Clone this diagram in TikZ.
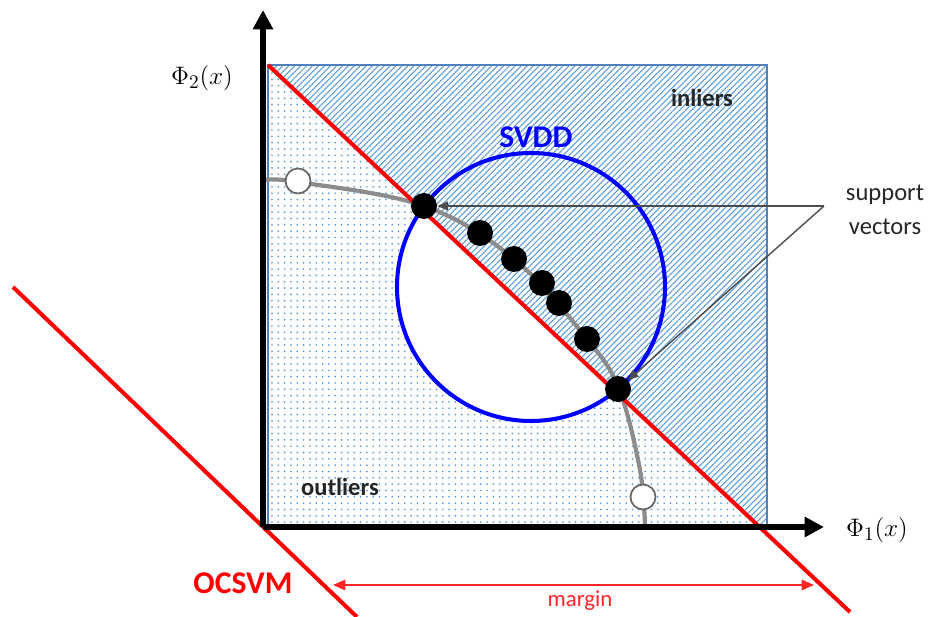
\documentclass[tikz,border=0pt]{standalone}
\usepackage{fontspec}
\setmainfont{Carlito}
\usetikzlibrary{arrows.meta, patterns.meta, positioning}

\definecolor{hatchblue}{RGB}{91,155,213}
\definecolor{boxblue}{RGB}{79,129,189}

\begin{document}
\begin{tikzpicture}[
  x=0.02cm, y=-0.02cm,
  axis/.style={line width=3pt,-{Triangle[length=11pt,width=11pt]}},
  boundary/.style={red,line width=2.3pt},
  sv/.style={circle,fill=black,inner sep=0pt,minimum size=0.52cm},
  outlier/.style={circle,draw=black!60,fill=white,line width=1pt,inner sep=0pt,minimum size=0.5cm},
  lbl/.style={font=\fontsize{14}{19}\selectfont\bfseries,text=black!85},
  axlbl/.style={font=\fontsize{15.5}{18}\selectfont},
  pointer/.style={black!70,line width=0.8pt,-{Triangle[length=6pt,width=5pt]}},
  marginarrow/.style={red!85,line width=0.9pt,{Triangle[length=7pt,width=6pt]}-{Triangle[length=7pt,width=6pt]}}
]
  \useasboundingbox (0,0) rectangle (930,617);

  % regions
  \fill[pattern={Dots[distance=3.6pt,radius=0.55pt]},pattern color=hatchblue]
    (268,65) -- (762,527) -- (268,527) -- cycle;
  \fill[white] (531,287) circle[radius=134];
  \fill[pattern={Lines[angle=45,distance=2.4pt,line width=0.6pt]},pattern color=hatchblue]
    (268,65) -- (767,65) -- (767,527) -- (762,527) -- cycle;
  \draw[boxblue,line width=0.8pt] (268,65) rectangle (767,527);

  \draw[black!45,line width=2.4pt] plot[smooth,tension=0.6]
    coordinates {(263,180) (298,182) (424,206) (514,259) (587,339) (619,389) (640,470) (645,527)};
  \draw[blue,line width=2.3pt] (531,287) circle[radius=134];
  \draw[boundary] (268,65) -- (850,612);
  \draw[boundary] (13,287) -- (357,617);

  \coordinate (o) at (263,527);
  \coordinate (xend) at (824,527);
  \coordinate (yend) at (263,10);
  \draw[axis] (o) -- (xend);
  \draw[axis] (o) -- (yend);
  \node[axlbl] (phi1) at (877,530) {$\Phi_1(x)$};
  \node[axlbl] (phi2) at (202,78) {$\Phi_2(x)$};

  \node[outlier] (out1) at (298,181) {};
  \node[outlier] (out2) at (643,497) {};
  \node[sv] (sv1) at (424,206) {};
  \node[sv] (in1) at (480,233) {};
  \node[sv] (in2) at (514,259) {};
  \node[sv] (in3) at (542,283) {};
  \node[sv] (in4) at (559,303) {};
  \node[sv] (in5) at (587,339) {};
  \node[sv] (sv2) at (618,389) {};

  \node[lbl] (inl) at (702,98) {inliers};
  \node[lbl] (outl) at (340,487) {outliers};
  \node[font=\fontsize{18}{20}\selectfont\bfseries,text=blue] (svdd) at (536,137) {SVDD};
  \node[font=\fontsize{18}{20}\selectfont\bfseries,text=red] (ocsvm) at (243,583) {OCSVM};
  \node[font=\fontsize{14}{19}\selectfont,text=black!85,align=center] (svlbl) at (885,210) {support\\vectors};

  \coordinate (apex) at (824,206);
  \draw[pointer] (apex) -- (sv1);
  \draw[pointer] (apex) -- (sv2);

  \coordinate (ml) at (333,585);
  \coordinate (mr) at (814,585);
  \draw[marginarrow] (ml) -- (mr);
  \node[font=\fontsize{13}{16}\selectfont,text=red!85] (mlbl) at (580,601) {margin};
\end{tikzpicture}
\end{document}
